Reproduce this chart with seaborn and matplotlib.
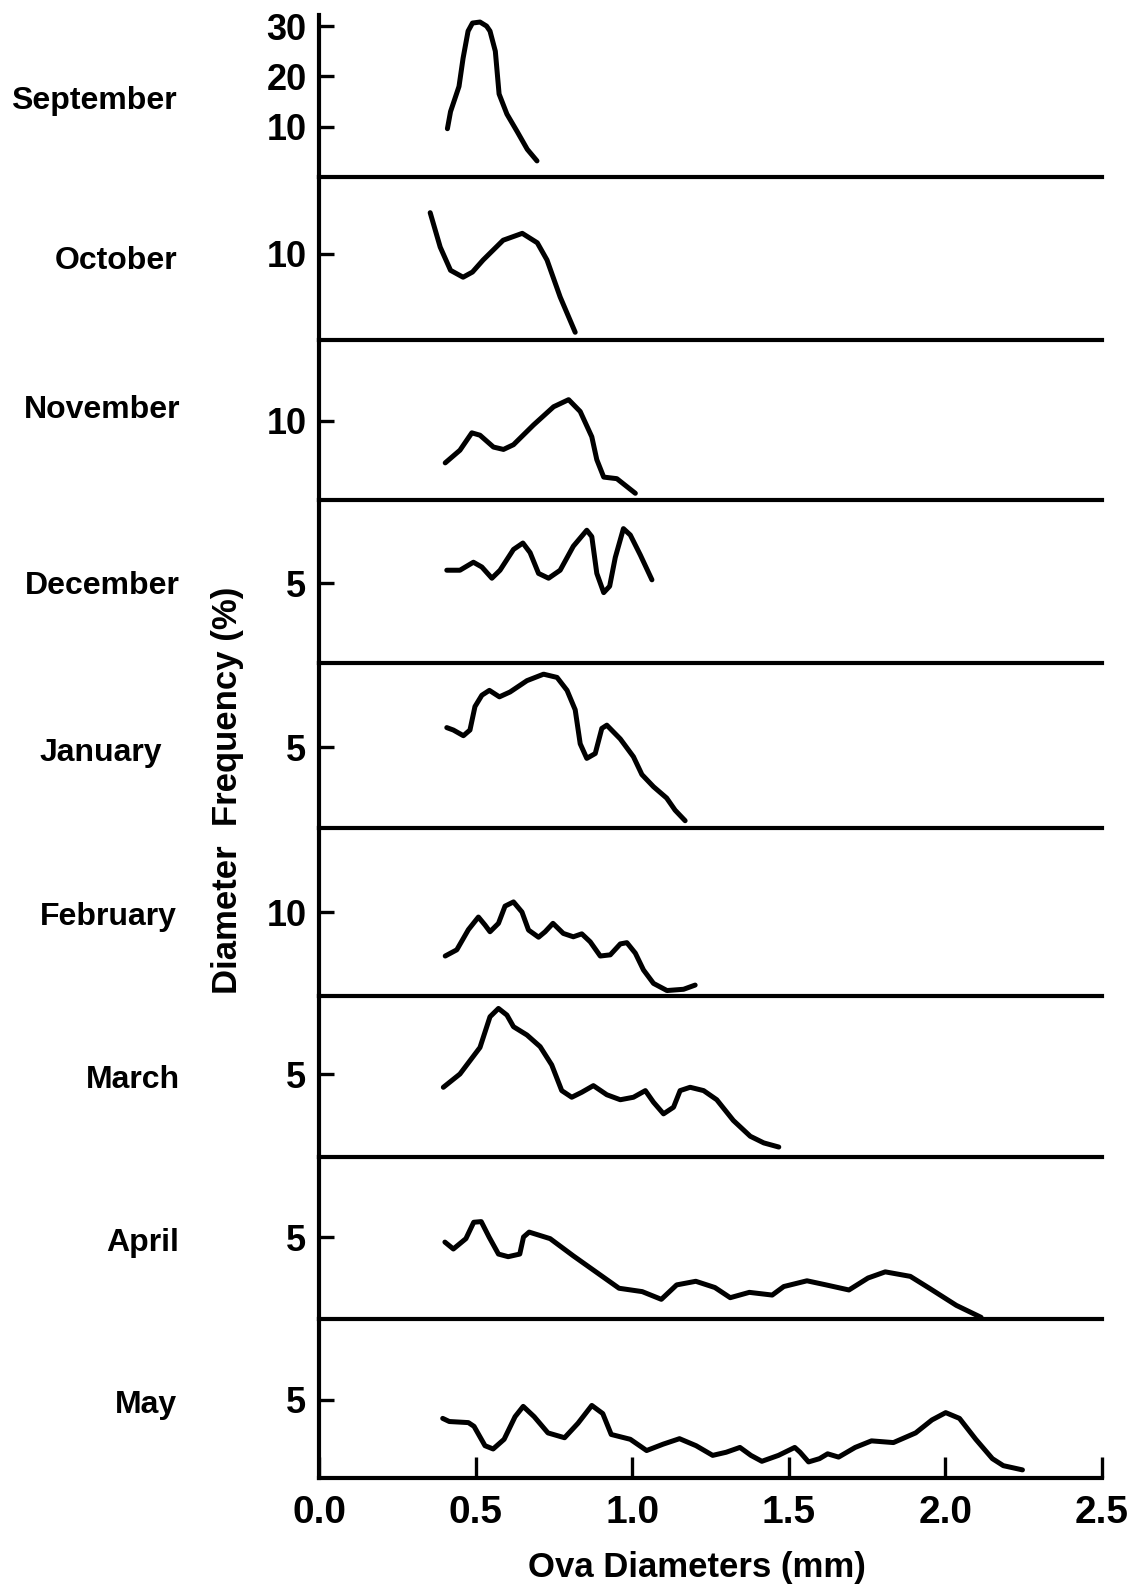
import matplotlib
matplotlib.use("Agg")
import matplotlib.pyplot as plt
import seaborn as sns
import pandas as pd

# Monthly ova-diameter frequency curves (diameter in mm, frequency in %)
months = ["September", "October", "November", "December", "January",
          "February", "March", "April", "May"]

sep_x = [0.41, 0.42, 0.447, 0.46, 0.476, 0.49, 0.514, 0.535, 0.546, 0.563, 0.575,
         0.60, 0.633, 0.665, 0.696]
sep_y = [9.6, 13.0, 18.0, 23.6, 29.0, 30.6, 30.8, 30.0, 29.0, 25.0, 16.5,
         12.5, 9.0, 5.5, 3.2]

oct_x = [0.355, 0.387, 0.42, 0.46, 0.49, 0.524, 0.588, 0.649, 0.697, 0.728, 0.77, 0.818]
oct_y = [14.8, 10.8, 8.1, 7.3, 7.9, 9.3, 11.6, 12.4, 11.3, 9.3, 5.0, 0.9]

nov_x = [0.403, 0.45, 0.488, 0.514, 0.557, 0.589, 0.621, 0.685, 0.749, 0.797,
         0.834, 0.871, 0.887, 0.909, 0.951, 1.01]
nov_y = [4.7, 6.3, 8.5, 8.2, 6.7, 6.4, 7.0, 9.5, 11.8, 12.7,
         11.2, 8.0, 5.1, 2.9, 2.7, 0.85]

dec_x = [0.408, 0.45, 0.493, 0.52, 0.552, 0.578, 0.621, 0.651, 0.674, 0.701, 0.733,
         0.77, 0.812, 0.855, 0.871, 0.887, 0.909, 0.928, 0.946, 0.972, 0.994, 1.026, 1.063]
dec_y = [5.8, 5.8, 6.3, 6.0, 5.3, 5.8, 7.1, 7.5, 6.9, 5.6, 5.3,
         5.8, 7.3, 8.3, 7.9, 5.6, 4.4, 4.8, 6.6, 8.4, 8.0, 6.75, 5.2]

jan_x = [0.408, 0.429, 0.461, 0.482, 0.498, 0.52, 0.544, 0.576, 0.61, 0.664, 0.717,
         0.76, 0.792, 0.818, 0.834, 0.855, 0.882, 0.903, 0.919, 0.962, 1.004, 1.031,
         1.068, 1.11, 1.137, 1.169]
jan_y = [6.2, 6.05, 5.7, 6.05, 7.5, 8.2, 8.5, 8.1, 8.4, 9.1, 9.5,
         9.3, 8.5, 7.3, 5.2, 4.3, 4.6, 6.15, 6.35, 5.5, 4.4, 3.3,
         2.55, 1.85, 1.1, 0.45]

feb_x = [0.403, 0.44, 0.477, 0.509, 0.53, 0.546, 0.573, 0.594, 0.621, 0.648, 0.669,
         0.701, 0.722, 0.747, 0.78, 0.812, 0.839, 0.866, 0.898, 0.93, 0.962, 0.983,
         1.01, 1.036, 1.068, 1.111, 1.164, 1.201]
feb_y = [4.76, 5.5, 7.9, 9.4, 8.45, 7.65, 8.65, 10.7, 11.2, 10.0, 7.85,
         7.0, 7.65, 8.65, 7.45, 7.05, 7.4, 6.45, 4.76, 4.9, 6.2, 6.35,
         5.1, 3.1, 1.5, 0.65, 0.8, 1.3]

mar_x = [0.397, 0.45, 0.514, 0.546, 0.573, 0.60, 0.621, 0.664, 0.706, 0.743, 0.775,
         0.807, 0.839, 0.876, 0.919, 0.962, 1.004, 1.042, 1.068, 1.10, 1.132, 1.153,
         1.185, 1.228, 1.27, 1.323, 1.377, 1.42, 1.468]
mar_y = [4.2, 5.0, 6.6, 8.45, 8.95, 8.55, 7.85, 7.35, 6.65, 5.55, 4.0,
         3.6, 3.9, 4.3, 3.75, 3.45, 3.6, 4.0, 3.3, 2.6, 3.0, 4.0,
         4.2, 4.0, 3.45, 2.2, 1.25, 0.85, 0.6]

apr_x = [0.402, 0.429, 0.469, 0.494, 0.518, 0.543, 0.573, 0.604, 0.641, 0.653, 0.671,
         0.738, 0.812, 0.897, 0.958, 1.032, 1.093, 1.142, 1.203, 1.264, 1.313, 1.374,
         1.447, 1.484, 1.558, 1.619, 1.692, 1.753, 1.808, 1.888, 1.949, 2.035, 2.114]
apr_y = [4.69, 4.27, 4.9, 5.9, 5.94, 5.0, 3.96, 3.8, 3.96, 5.0, 5.3,
         4.9, 3.85, 2.7, 1.875, 1.67, 1.2, 2.08, 2.3, 1.92, 1.3, 1.625,
         1.46, 1.98, 2.33, 2.08, 1.77, 2.5, 2.875, 2.6, 1.875, 0.83, 0.1]

may_x = [0.395, 0.416, 0.477, 0.495, 0.53, 0.556, 0.591, 0.626, 0.652, 0.687, 0.731,
         0.784, 0.827, 0.871, 0.906, 0.933, 0.994, 1.046, 1.099, 1.151, 1.204, 1.257,
         1.30, 1.344, 1.379, 1.414, 1.467, 1.519, 1.536, 1.563, 1.598, 1.624, 1.659,
         1.712, 1.764, 1.834, 1.905, 1.957, 2.001, 2.045, 2.097, 2.15, 2.185, 2.246]
may_y = [3.82, 3.62, 3.55, 3.31, 2.07, 1.86, 2.48, 3.93, 4.59, 3.93, 2.89,
         2.58, 3.51, 4.65, 4.13, 2.79, 2.48, 1.76, 2.17, 2.52, 2.07, 1.45,
         1.65, 1.96, 1.45, 1.07, 1.45, 1.96, 1.65, 1.03, 1.24, 1.55, 1.34,
         1.96, 2.38, 2.27, 2.89, 3.72, 4.19, 3.82, 2.48, 1.24, 0.79, 0.52]

series_x = [sep_x, oct_x, nov_x, dec_x, jan_x, feb_x, mar_x, apr_x, may_x]
series_y = [sep_y, oct_y, nov_y, dec_y, jan_y, feb_y, mar_y, apr_y, may_y]

# y tick values per panel and upper y limit of each panel
panel_ticks = [[10, 20, 30], [10], [10], [5], [5], [10], [5], [5], [5]]
panel_ymax = [32.2, 18.95, 20.25, 10.19, 10.19, 20.0, 9.7, 9.88, 10.19]

x_ticks = [0.0, 0.5, 1.0, 1.5, 2.0, 2.5]
x_ticklabels = ["0.0", "0.5", "1.0", "1.5", "2.0", "2.5"]

# ---- figure layout (pixels) ----
W, H = 1137, 1585
sns.set_style("white")
plt.rcParams["font.family"] = ["Liberation Sans", "DejaVu Sans"]
plt.rcParams["font.weight"] = "bold"
plt.rcParams["text.color"] = "black"
plt.rcParams["xtick.color"] = "black"
plt.rcParams["ytick.color"] = "black"
plt.rcParams["xtick.labelcolor"] = "black"
plt.rcParams["ytick.labelcolor"] = "black"

fig = plt.figure(figsize=(W / 100, H / 100), dpi=100)
fig.patch.set_facecolor("white")

x_left, x_right = 319, 1102
edges = [15, 177, 340, 500, 663, 828, 996, 1157, 1319, 1478]
label_right = [177, 177, 180, 180, 162, 177, 180, 179, 177]
label_yc = [101, 261, 410, 586, 753, 917, 1080, 1243, 1405]

for i, month in enumerate(months):
    top, bot = edges[i], edges[i + 1]
    ax = fig.add_axes([x_left / W, 1 - bot / H, (x_right - x_left) / W, (bot - top) / H])
    ax.set_facecolor("none")
    df = pd.DataFrame({"diameter": series_x[i], "freq": series_y[i]})
    sns.lineplot(data=df, x="diameter", y="freq", ax=ax, color="black",
                 linewidth=3.6, sort=False, estimator=None,
                 solid_joinstyle="round", solid_capstyle="round")
    ax.set_xlim(0, 2.5)
    ax.set_ylim(0, panel_ymax[i])
    for s in ["top", "right"]:
        ax.spines[s].set_visible(False)
    for s in ["left", "bottom"]:
        ax.spines[s].set_visible(True)
        ax.spines[s].set_linewidth(3.0)
        ax.spines[s].set_color("black")
    ax.set_yticks(panel_ticks[i])
    ax.set_yticklabels([str(t) for t in panel_ticks[i]], fontsize=26, fontweight="bold",
                       color="black")
    ax.tick_params(axis="y", direction="in", length=11, width=2.4, pad=9, color="black",
                   left=True)
    ax.set_xlabel("")
    ax.set_ylabel("")
    if i < len(months) - 1:
        ax.set_xticks([])
    else:
        ax.set_xticks(x_ticks)
        ax.set_xticklabels(x_ticklabels, fontsize=28, fontweight="bold", color="black")
        ax.tick_params(axis="x", direction="in", length=15, width=2.4, pad=12,
                       color="black", bottom=True)
    fig.text(label_right[i] / W, 1 - label_yc[i] / H, month, ha="right", va="center",
             fontsize=23, fontweight="bold", color="black")

fig.text(227 / W, 1 - 790 / H, "Diameter  Frequency (%)", rotation=90,
         ha="center", va="center", fontsize=25, fontweight="bold", color="black")
fig.text(697 / W, 1 - 1567 / H, "Ova Diameters (mm)", ha="center", va="center",
         fontsize=25, fontweight="bold", color="black")

fig.savefig("out.png", dpi=100, facecolor="white")
